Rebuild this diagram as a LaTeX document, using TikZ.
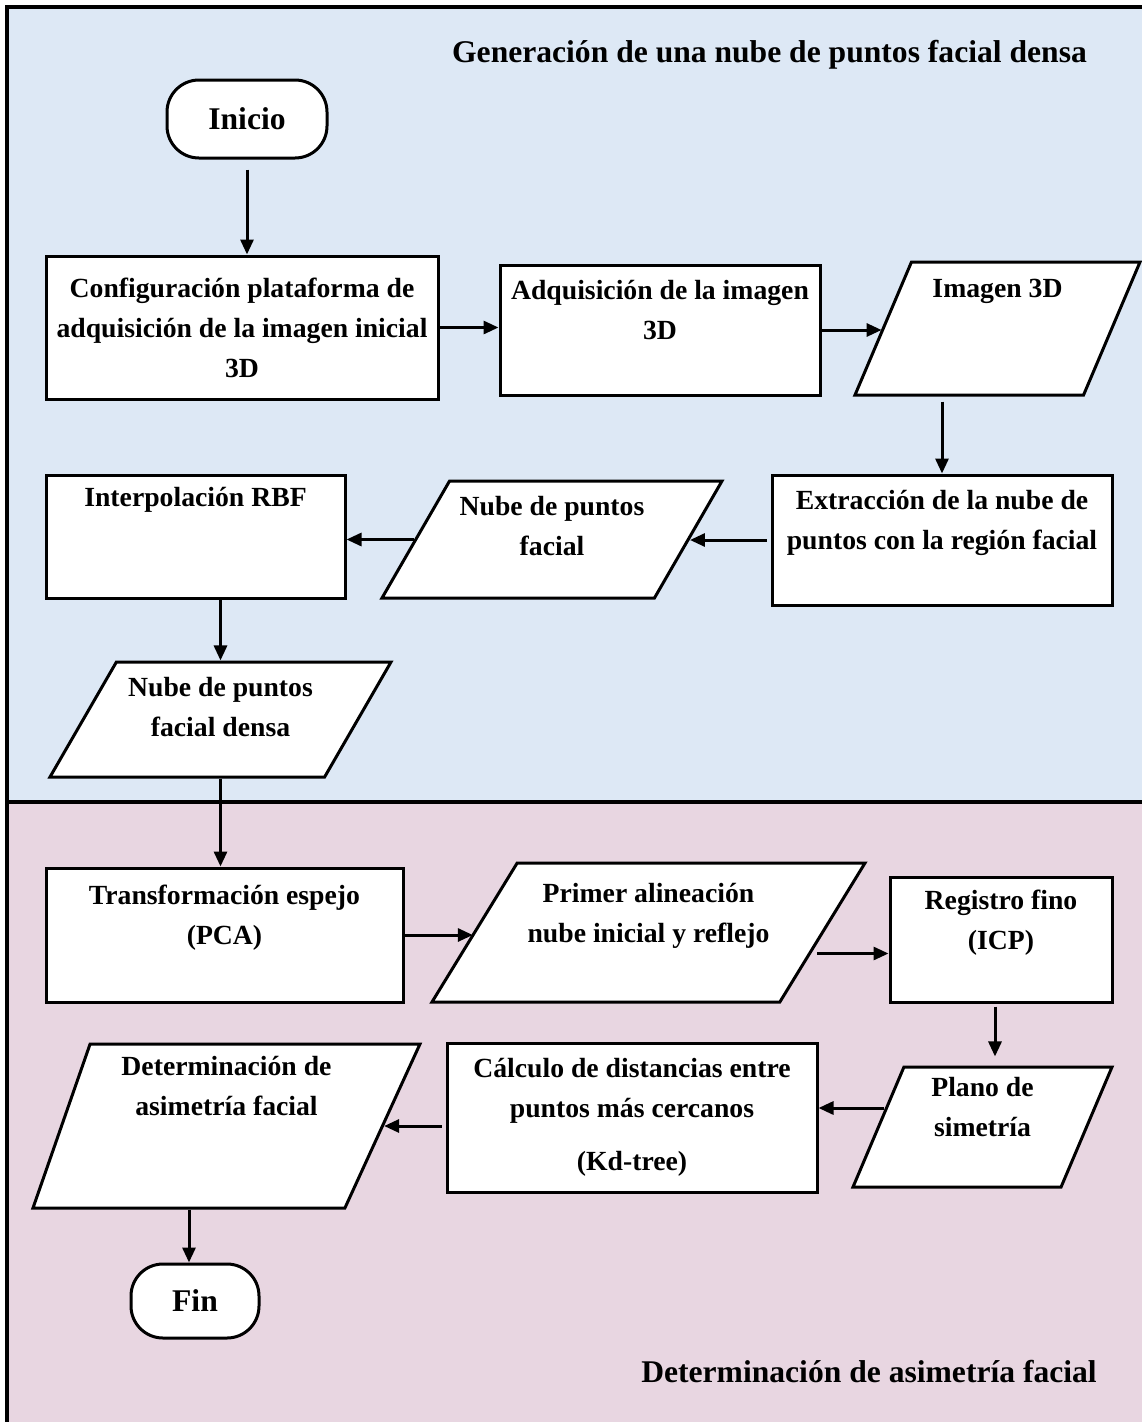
\documentclass[tikz,border=0pt]{standalone}
\usepackage{fontspec}
\setmainfont{Liberation Serif}
\usetikzlibrary{shapes.geometric,arrows.meta}
\definecolor{fondoazul}{RGB}{221,232,245}
\definecolor{fondorosa}{RGB}{232,214,225}

\begin{document}
\begin{tikzpicture}[x=1pt,y=-1pt,>={Triangle[length=15pt,width=13pt]},
    letra/.style={font=\bfseries\fontsize{27.7pt}{40pt}\selectfont},
    caja/.style={draw,line width=3pt,fill=white,align=center,inner sep=0pt,letra},
    datos/.style={caja,trapezium,trapezium stretches body,
      trapezium left angle=#1,trapezium right angle={180-#1}},
    etiqueta/.style={align=center,inner sep=0pt,letra},
    extremo/.style={caja,rounded corners=32pt,font=\bfseries\fontsize{31.6pt}{40pt}\selectfont},
    titulo/.style={font=\bfseries\fontsize{31.6pt}{40pt}\selectfont},
    flecha/.style={->,line width=3pt}]
  \useasboundingbox (0,0) rectangle (1142,1422);
  % fondos y marco
  \fill[fondoazul] (7,7) rectangle (1142,802);
  \fill[fondorosa] (7,802) rectangle (1142,1422);
  \draw[line width=4pt] (7,1422) -- (7,7) -- (1142,7);
  \draw[line width=4pt] (7,802) -- (1142,802);
  \node[titulo] (tit1) at (769.5,55) {Generación de una nube de puntos facial densa};
  \node[titulo] (tit2) at (869,1372) {Determinación de asimetría facial};

  % primera etapa
  \node[extremo,minimum width=160pt,minimum height=78pt] (inicio) at (247,119) {Inicio};
  \node[caja,minimum width=392pt,minimum height=143pt] (config) at (242,327.5)
    {Configuración plataforma de\\adquisición de la imagen inicial\\3D};
  \node[caja,minimum width=320pt,minimum height=130pt] (adq) at (660,330)
    {Adquisición de la imagen\\3D\\~};
  \node[datos=67,minimum width=285pt,
    label={[etiqueta]center:{Imagen 3D\\~\\~}}] (img) at (997.5,328.5) {\rule{0pt}{133pt}};
  \node[caja,minimum width=340pt,minimum height=130pt] (extr) at (942,540)
    {Extracción de la nube de\\puntos con la región facial\\~};
  \node[datos=60,minimum width=340pt,
    label={[etiqueta]center:{Nube de puntos\\facial\\[-12pt]~}}] (nf) at (552,539.5) {\rule{0pt}{117pt}};
  \node[caja,minimum width=299pt,minimum height=123pt] (interp) at (195.5,536.5)
    {Interpolación RBF\\~\\~};
  \node[datos=60,minimum width=341pt,
    label={[etiqueta]center:{Nube de puntos\\facial densa\\[-14pt]~}}] (nd) at (220.5,719.5) {\rule{0pt}{115pt}};

  % segunda etapa
  \node[caja,minimum width=357pt,minimum height=134pt] (trans) at (224.5,935)
    {Transformación espejo\\(PCA)\\~};
  \node[datos=58.5,minimum width=433pt,
    label={[etiqueta]center:{Primer alineación\\nube inicial y reflejo\\~}}] (primer) at (648.5,932.5) {\rule{0pt}{139pt}};
  \node[caja,minimum width=222pt,minimum height=125pt] (reg) at (1001,939.5)
    {Registro fino\\(ICP)\\~};
  \node[datos=67,minimum width=259pt,
    label={[etiqueta]center:{Plano de\\simetría\\~}}] (plano) at (982.5,1127) {\rule{0pt}{120pt}};
  \node[caja,minimum width=370pt,minimum height=149pt] (calc) at (632,1117.5)
    {Cálculo de distancias entre\\puntos más cercanos\\[13pt](Kd-tree)};
  \node[datos=70.8,trapezium right angle=114.6,minimum width=387pt,
    label={[etiqueta,xshift=9pt]center:{Determinación de\\asimetría facial\\~\\~}}] (det) at (217.5,1126) {\rule{0pt}{164pt}};
  \node[extremo,minimum width=128pt,minimum height=74pt] (fin) at (195,1301) {Fin};

  % conexiones
  \draw[flecha,shorten <=10pt] (inicio.south) -- (inicio.south |- config.north);
  \draw[flecha] (config.east) -- (config.east -| adq.west);
  \draw[flecha] (adq.east) -- (adq.east -| img.west);
  \draw[flecha,shorten <=5pt] (extr.north |- img.south) -- (extr.north);
  \draw[flecha,shorten <=4pt] (extr.west) -- (extr.west -| nf.east);
  \draw[flecha] (nf.west) -- (nf.west -| interp.east);
  \draw[flecha] (nd.north |- interp.south) -- (nd.north);
  \draw[flecha] (nd.south) -- (nd.south |- trans.north);
  \draw[flecha] (trans.east) -- (trans.east -| primer.west);
  \draw[flecha] ([yshift=-21pt,xshift=-7pt]primer.east) -- ([yshift=-21pt]primer.east -| reg.west);
  \draw[flecha,shorten <=3pt,shorten >=9pt] ([xshift=-6pt]reg.south) -- ([xshift=-6pt]reg.south |- plano.north);
  \draw[flecha] ([yshift=19pt,xshift=7pt]plano.west) -- ([yshift=19pt]plano.west -| calc.east);
  \draw[flecha,shorten <=4pt] (det.east -| calc.west) -- (det.east);
  \draw[flecha] ([xshift=-6pt]fin.north |- det.south) -- ([xshift=-6pt]fin.north);
\end{tikzpicture}
\end{document}
